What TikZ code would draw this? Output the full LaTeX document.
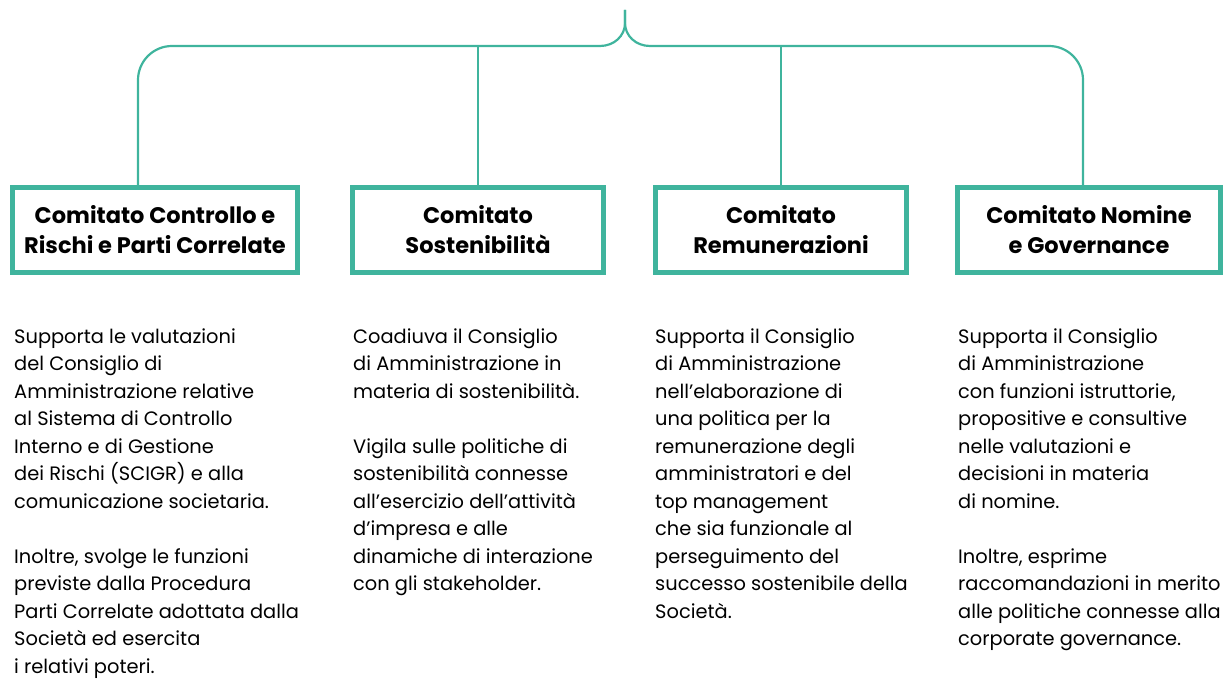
\documentclass[tikz,border=0pt]{standalone}
\usepackage{fontspec}
\setmainfont{Poppins}
\definecolor{comgreen}{HTML}{3FB49D}
\begin{document}
\begin{tikzpicture}[x=1pt,y=-1pt,
    link/.style={draw=comgreen,line width=2.2pt},
    comitato/.style={draw=comgreen,line width=5pt,minimum height=85pt,inner sep=0pt,
      align=center,font=\fontsize{22.5}{30}\selectfont\bfseries},
    descr/.style={anchor=base west,inner sep=0pt,align=left,
      font=\fontsize{19.4}{27.5}\selectfont}]
    \useasboundingbox (0,0) rectangle (1224,682);
    % committees
    \node[comitato,minimum width=285pt] (crpc) at (155,230) {Comitato Controllo e\\Rischi e Parti Correlate};
    \node[comitato,minimum width=251pt] (sost) at (478,230) {Comitato\\Sostenibilità};
    \node[comitato,minimum width=251pt] (remu) at (781,230) {Comitato\\Remunerazioni};
    \node[comitato,minimum width=263pt] (nomi) at (1089,230) {Comitato Nomine\\e Governance};
    % brace on top
    \coordinate (top) at (625,10);
    \coordinate (hubL) at (600,46);
    \coordinate (hubR) at (650,46);
    \draw[link] (top) -- (625,23) .. controls (625,36) and (614,46) .. (hubL);
    \draw[link] (top) -- (625,23) .. controls (625,36) and (636,46) .. (hubR);
    \draw[link,rounded corners=34pt] ([xshift=-17pt]crpc.north) |- (hubL);
    \draw[link,rounded corners=34pt] ([xshift=-6pt]nomi.north) |- (hubR);
    \draw[link] (sost.north) -- (sost.north |- hubL);
    \draw[link] (remu.north) -- (remu.north |- hubR);
    % descriptions (placed by the baseline of their last line)
    \node[descr] (d1) at (14,673) {Supporta le valutazioni\\del Consiglio di\\Amministrazione relative\\al Sistema di Controllo\\Interno e di Gestione\\dei Rischi (SCIGR) e alla\\comunicazione societaria.\\[27.5pt]Inoltre, svolge le funzioni\\previste dalla Procedura\\Parti Correlate adottata dalla\\Società ed esercita\\i relativi poteri.};
    \node[descr] (d2) at (353,590.5) {Coadiuva il Consiglio\\di Amministrazione in\\materia di sostenibilità.\\[27.5pt]Vigila sulle politiche di\\sostenibilità connesse\\all’esercizio dell’attività\\d’impresa e alle\\dinamiche di interazione\\con gli stakeholder.};
    \node[descr] (d3) at (655,618) {Supporta il Consiglio\\di Amministrazione\\nell’elaborazione di\\una politica per la\\remunerazione degli\\amministratori e del\\top management\\che sia funzionale al\\perseguimento del\\successo sostenibile della\\Società.};
    \node[descr] (d4) at (958,645.5) {Supporta il Consiglio\\di Amministrazione\\con funzioni istruttorie,\\propositive e consultive\\nelle valutazioni e\\decisioni in materia\\di nomine.\\[27.5pt]Inoltre, esprime\\raccomandazioni in merito\\alle politiche connesse alla\\corporate governance.};
\end{tikzpicture}
\end{document}
